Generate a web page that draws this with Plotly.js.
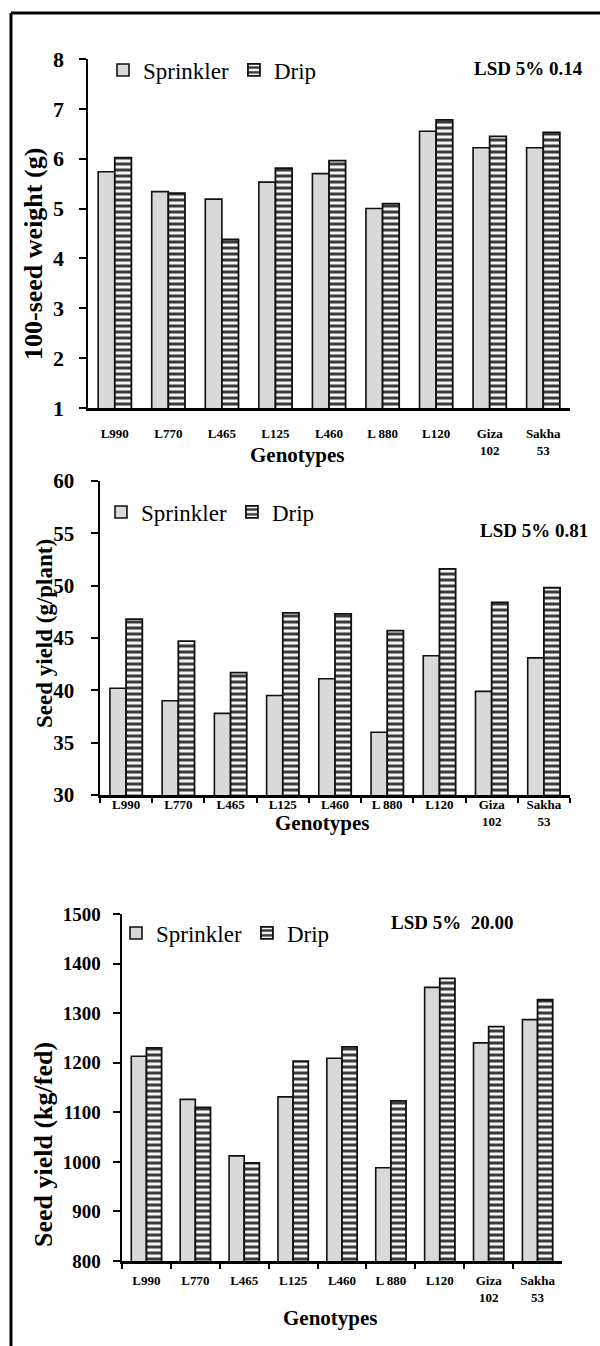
<!DOCTYPE html>
<html><head><meta charset="utf-8">
<script src="https://cdn.plot.ly/plotly-3.0.1.min.js"></script>
<style>html,body{margin:0;padding:0;background:#fff}#chart{width:600px;height:1346px}</style>
</head><body><div id="chart"></div>
<script>
const genotypes = ["L990","L770","L465","L125","L460","L 880","L120","Giza<br>102","Sakha<br>53"];
const seriesNames = ["Sprinkler","Drip"];
const seedWeightSprinkler = [5.74,5.34,5.19,5.53,5.70,5.00,6.55,6.22,6.22];
const seedWeightDrip      = [6.02,5.31,4.38,5.81,5.96,5.10,6.78,6.45,6.53];
const yieldPlantSprinkler = [40.2,39.0,37.8,39.5,41.1,36.0,43.3,39.9,43.1];
const yieldPlantDrip      = [46.8,44.7,41.7,47.4,47.3,45.7,51.6,48.4,49.8];
const yieldFedSprinkler   = [1213,1126,1012,1131,1209,988,1352,1240,1287];
const yieldFedDrip        = [1230,1110,998,1203,1232,1123,1370,1273,1327];
const yTitles = ["100-seed weight (g)","Seed yield (g/plant)","Seed yield (kg/fed)"];
const xTitle = "Genotypes";
const lsdTexts = ["LSD 5% 0.14","LSD 5% 0.81","LSD 5%\u00a0\u00a020.00"];

const W = 600, H = 1346;
const px = v => v / W;
const py = v => 1 - v / H;
const FONT = "Liberation Serif";

const sprinklerMarker = {color:"#d9d9d9", line:{color:"#111", width:1.6}};
const dripMarker = {color:"#f2f2f2", line:{color:"#111", width:1.8},
  pattern:{shape:"-", fgcolor:"#3a3a3a", bgcolor:"#f4f4f4", size:6, solidity:0.5, fillmode:"replace"}};

const panels = [
  {s:seedWeightSprinkler, d:seedWeightDrip},
  {s:yieldPlantSprinkler, d:yieldPlantDrip},
  {s:yieldFedSprinkler, d:yieldFedDrip}
];
const legendIds = ["legend","legend2","legend3"];
const data = [];
panels.forEach((p,i)=>{
  const xa = i===0 ? "x" : "x"+(i+1);
  const ya = i===0 ? "y" : "y"+(i+1);
  data.push({type:"bar", name:seriesNames[0], x:genotypes, y:p.s, xaxis:xa, yaxis:ya, legend:legendIds[i], marker:sprinklerMarker, hoverinfo:"skip"});
  data.push({type:"bar", name:seriesNames[1], x:genotypes, y:p.d, xaxis:xa, yaxis:ya, legend:legendIds[i], marker:dripMarker, hoverinfo:"skip"});
});

function xAxis(dom, anchor, ticks, standoff){
  return {domain:dom, anchor:anchor, type:"category", showline:true, linecolor:"#000", linewidth:2.5,
    ticks:ticks, tickson:"boundaries", ticklen:5, tickwidth:2, tickcolor:"#000",
    ticklabelstandoff:standoff,
    showgrid:false, zeroline:false, fixedrange:true,
    tickfont:{family:FONT, size:13, color:"#000", weight:"bold"}};
}
function yAxis(dom, anchor, range, dtick, fs, standoff){
  return {domain:dom, anchor:anchor, range:range, dtick:dtick, tick0:range[0], showline:true, linecolor:"#000", linewidth:2.5,
    ticks:"outside", ticklen:7, tickwidth:2, tickcolor:"#000", showgrid:false, zeroline:false, fixedrange:true,
    ticklabelstandoff:standoff,
    tickfont:{family:FONT, size:fs, color:"#000", weight:"bold"}};
}
function legendAt(x, y, fs){
  return {x:px(x), y:py(y), xanchor:"left", yanchor:"middle", orientation:"h", bgcolor:"rgba(0,0,0,0)",
    borderwidth:0, itemwidth:30, tracegroupgap:0, itemclick:false, itemdoubleclick:false,
    font:{family:FONT, size:fs, color:"#000"}};
}
function ann(text, x, y, fs, opts){
  return Object.assign({text:text, x:px(x), y:py(y), xref:"paper", yref:"paper", showarrow:false,
    xanchor:"center", yanchor:"middle", font:{family:FONT, size:fs, color:"#000", weight:"bold"}}, opts||{});
}

const layout = {
  width:W, height:H, margin:{l:0,r:0,t:0,b:0}, paper_bgcolor:"#fff", plot_bgcolor:"rgba(0,0,0,0)",
  font:{family:FONT, color:"#000"},
  barmode:"group", bargap:0.38, bargroupgap:0, showlegend:true,
  xaxis: xAxis([px(88), px(570)], "y", "", 12),
  yaxis: yAxis([py(408), py(59)], "x", [1,8], 1, 22, 10),
  xaxis2: xAxis([px(100), px(570)], "y2", "outside", -4),
  yaxis2: yAxis([py(795), py(481)], "x2", [30,60], 5, 21, 12),
  xaxis3: xAxis([px(122), px(562)], "y3", "outside", 6),
  yaxis3: yAxis([py(1261), py(914)], "x3", [800,1500], 100, 19, 8),
  legend: legendAt(103, 70, 23),
  legend2: legendAt(101, 512, 23),
  legend3: legendAt(116, 933, 23),
  annotations: [
    ann(yTitles[0], 33, 254, 26, {textangle:-90}),
    ann(yTitles[1], 44, 634, 23, {textangle:-90}),
    ann(yTitles[2], 43, 1145, 26, {textangle:-90}),
    ann(xTitle, 297, 455, 21),
    ann(xTitle, 322, 823, 21),
    ann(xTitle, 330, 1318, 21),
    ann(lsdTexts[0], 585, 68, 19, {xanchor:"right"}),
    ann(lsdTexts[1], 590, 531, 19, {xanchor:"right"}),
    ann(lsdTexts[2], 515, 922, 19, {xanchor:"right"})
  ],
  shapes: [
    {type:"line", xref:"paper", yref:"paper", x0:px(11), x1:px(11), y0:py(13), y1:py(1360), line:{color:"#000", width:3}},
    {type:"line", xref:"paper", yref:"paper", x0:px(11), x1:px(620), y0:py(13), y1:py(13), line:{color:"#000", width:3}}
  ]
};

Plotly.newPlot("chart", data, layout, {staticPlot:true, displayModeBar:false});
</script></body></html>
